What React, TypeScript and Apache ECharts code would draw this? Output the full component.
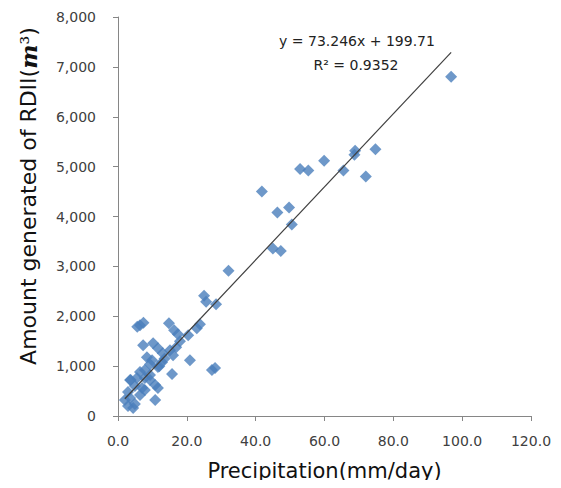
import React, { useEffect, useRef } from "react";
import * as echarts from "echarts";

// Precipitation (mm/day)
const precip: number[] = [
  96.8, 74.8, 72.0, 68.9, 68.7, 65.5, 59.9, 55.3, 52.9,
  41.8, 49.7, 46.3, 50.5, 45.0, 47.3, 32.1,
  25.0, 25.6, 28.5, 27.3, 28.2,
  6.4, 5.6, 7.4, 14.8, 16.3, 17.4, 20.4, 22.9, 23.8,
  7.3, 10.2, 11.6, 13.0, 15.1, 16.0, 16.9, 18.0,
  8.4, 9.9, 9.3, 11.6, 12.8, 20.9, 15.7,
  7.8, 6.4, 7.8, 9.3, 5.5, 3.5, 10.8, 11.6, 7.0, 4.9, 2.9,
  6.4, 10.8, 2.0, 3.5, 2.9, 4.4, 4.9, 7.8, 9.3, 3.7, 13.5, 12.0,
];
// Amount generated of RDII (m3)
const rdii: number[] = [
  6800, 5350, 4800, 5320, 5240, 4920, 5120, 4920, 4950,
  4500, 4180, 4080, 3840, 3360, 3310, 2910,
  2410, 2290, 2240, 920, 960,
  1820, 1790, 1870, 1860, 1720, 1640, 1620, 1760, 1840,
  1420, 1460, 1360, 1260, 1320, 1220, 1380, 1500,
  1180, 1120, 1040, 980, 1080, 1120, 840,
  920, 880, 760, 720, 760, 720, 620, 560, 560, 600, 480,
  420, 320, 320, 360, 200, 160, 240, 520, 820, 720, 1150, 1000,
];

const slope = 73.246;
const intercept = 199.71;
const equationText = "y = 73.246x + 199.71";
const r2Text = "R² = 0.9352";
const xTitle = "Precipitation(mm/day)";
const yTitle = "{a|Amount generated of RDII(}{m|m}{s|³}{a|)}";

const xTicks: number[] = [0, 20, 40, 60, 80, 100, 120];
const yTicks: number[] = [0, 1000, 2000, 3000, 4000, 5000, 6000, 7000, 8000];

export default function App() {
  const ref = useRef<HTMLDivElement>(null);
  useEffect(() => {
    if (!ref.current) return;
    const chart = echarts.init(ref.current, null, { renderer: "svg" });
    const pts = precip.map((x, i) => [x, rdii[i]]);
    const xmin = Math.min(...precip);
    const xmax = Math.max(...precip);
    const trend = [
      [xmin, slope * xmin + intercept],
      [xmax, slope * xmax + intercept],
    ];
    const labelColor = "#404040";
    const axisColor = "#868686";
    const sans = "'DejaVu Sans', 'Liberation Sans', sans-serif";
    chart.setOption({
      animation: false,
      backgroundColor: "#ffffff",
      grid: { left: 118, right: 30, top: 17, bottom: 72 },
      xAxis: {
        type: "value",
        min: xTicks[0],
        max: xTicks[xTicks.length - 1],
        interval: 20,
        splitLine: { show: false },
        axisLine: { show: true, onZero: false, lineStyle: { color: axisColor, width: 1 } },
        axisTick: { show: true, length: 5, lineStyle: { color: axisColor } },
        axisLabel: {
          color: labelColor,
          fontSize: 14,
          fontFamily: sans,
          margin: 18,
          formatter: (v: number) => v.toFixed(1),
        },
        name: xTitle,
        nameLocation: "middle",
        nameGap: 44,
        nameTextStyle: {
          color: "#111111",
          fontSize: 21,
          fontFamily: sans,
        },
      },
      yAxis: {
        type: "value",
        min: yTicks[0],
        max: yTicks[yTicks.length - 1],
        interval: 1000,
        splitLine: { show: false },
        axisLine: { show: true, onZero: false, lineStyle: { color: axisColor, width: 1 } },
        axisTick: { show: true, length: 5, lineStyle: { color: axisColor } },
        axisLabel: {
          color: labelColor,
          fontSize: 14,
          fontFamily: sans,
          margin: 22,
          formatter: (v: number) => v.toLocaleString("en-US"),
        },
      },
      graphic: [
        {
          type: "text",
          x: 357,
          y: 41,
          style: {
            text: equationText,
            fill: "#222222",
            fontSize: 14,
            align: "center",
            verticalAlign: "middle",
            fontFamily: sans,
          },
        },
        {
          type: "text",
          x: 356,
          y: 65,
          style: {
            text: r2Text,
            fill: "#222222",
            fontSize: 14,
            align: "center",
            verticalAlign: "middle",
            fontFamily: sans,
          },
        },
        {
          type: "text",
          x: 28,
          y: 196,
          rotation: Math.PI / 2,
          style: {
            text: yTitle,
            align: "center",
            verticalAlign: "middle",
            rich: {
              a: {
                fill: "#111111",
                fontSize: 22,
                fontFamily: sans,
              },
              m: {
                fill: "#111111",
                fontSize: 23,
                fontStyle: "italic",
                fontWeight: "bold",
                fontFamily: "'DejaVu Serif', 'Liberation Serif', serif",
              },
              s: {
                fill: "#111111",
                fontSize: 22,
                fontFamily: "'DejaVu Serif', 'Liberation Serif', serif",
              },
            },
          },
        },
      ],
      series: [
        {
          type: "scatter",
          data: pts,
          symbol: "diamond",
          symbolSize: [12, 12],
          itemStyle: { color: "#4a7ebb" },
          z: 2,
        },
        {
          type: "line",
          data: trend,
          symbol: "none",
          lineStyle: { color: "#404040", width: 1.2 },
          z: 3,
          silent: true,
        },
      ],
    });
    return () => chart.dispose();
  }, []);
  return <div ref={ref} style={{ width: 561, height: 488, margin: -8 }} />;
}
